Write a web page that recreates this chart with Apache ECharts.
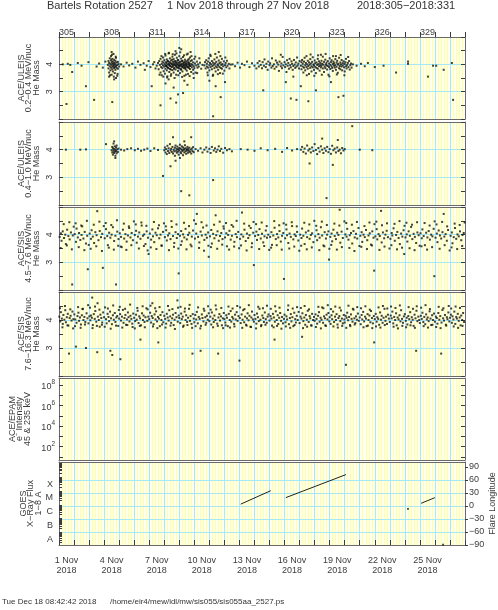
<!DOCTYPE html>
<html><head><meta charset="utf-8">
<script src="https://cdn.jsdelivr.net/npm/echarts@6/dist/echarts.min.js"></script>
<style>html,body{margin:0;padding:0;background:#fff}#c{width:498px;height:610px}</style>
</head><body><div id="c"></div>
<script>
// ---------------- DATA (hours since 2018-11-01 00:00, value) ----------------
const topTickLabels = ['305','308','311','314','317','320','323','326','329'];
const bottomTickLabels = ['1 Nov\n2018','4 Nov\n2018','7 Nov\n2018','10 Nov\n2018','13 Nov\n2018','16 Nov\n2018','19 Nov\n2018','22 Nov\n2018','25 Nov\n2018'];
const massTickLabels = ['3','4'];
const epamExponents = [2,4,6,8];
const goesClassLabels = ['A','B','C','M','X'];
const lonTickLabels = [-90,-60,-30,0,30,60,90];

// ACE/ULEIS 0.2-0.4 MeV/nuc He mass  [hour, mass, hour, mass, ...]
const uleisLow = [
6,4.00,12,2.55,14,4.02,18,3.98,21,3.72,30,4.05,36,3.95,43,3.20,47,4.08,56,2.70,60,3.92,64,4.03,70,3.88,74,4.10,
78,3.98,79,4.12,79,3.85,80,4.05,80,3.70,81,4.22,81,3.93,82,4.01,82,3.78,83,4.15,83,3.88,83,4.30,84,3.96,84,4.08,84,3.62,85,4.02,85,3.82,85,4.20,86,3.91,86,4.11,86,3.74,87,4.04,87,3.95,87,4.38,88,3.86,88,4.17,88,3.99,89,4.06,89,3.68,89,3.90,90,4.13,90,3.80,90,4.00,91,3.94,91,4.24,92,3.87,92,4.07,93,3.97,93,3.58,94,4.09,94,3.84,95,4.01,96,3.92,85,2.62,88,3.45,91,3.50,84,4.45,80,3.55,
81.5,3.60,84.5,4.35,87.5,3.55,90.5,4.28,93.5,3.65,
99,4.00,103,3.92,108,4.06,112,3.96,117,4.02,122,3.88,126,4.10,130,3.98,135,4.04,137,3.80,140,3.95,143,4.12,146,3.90,148,3.20,150,4.00,152,4.08,154,3.85,
156,3.95,158,4.05,159,3.82,160,4.12,161,3.98,162,3.70,162,4.20,163,3.90,164,4.02,164,3.60,165,4.10,165,3.86,166,4.25,166,3.96,167,3.75,167,4.06,168,3.92,168,4.15,169,3.66,169,4.00,170,3.84,170,4.32,171,3.94,171,4.08,172,3.78,172,4.18,173,3.99,173,3.56,174,4.11,174,3.88,175,4.03,175,4.40,176,3.72,176,3.97,177,4.22,177,3.83,178,4.05,178,3.93,179,3.64,179,4.14,180,3.90,180,4.01,181,4.28,181,3.79,182,3.96,182,4.09,183,3.70,183,4.19,184,3.87,184,4.04,185,3.98,185,4.35,186,3.81,186,4.12,187,3.94,187,3.62,188,4.07,188,4.24,189,3.89,189,4.00,190,3.76,190,4.16,191,3.97,191,4.05,192,3.85,192,4.30,193,3.93,193,3.68,194,4.10,194,3.99,195,4.21,195,3.80,196,4.02,196,3.91,197,4.13,197,3.74,198,3.96,198,4.27,199,3.86,199,4.06,200,3.99,200,3.58,201,4.17,201,3.90,202,4.03,202,3.82,203,4.11,203,3.95,204,4.36,204,3.77,205,4.00,205,3.92,206,4.08,206,3.65,207,4.19,207,3.87,208,3.97,208,4.05,209,3.83,209,4.25,210,3.94,210,4.12,211,3.72,211,4.01,212,3.89,212,4.15,213,3.98,214,3.80,214,4.07,215,3.93,216,4.20,216,3.86,217,4.03,218,3.70,219,3.96,220,4.10,221,3.88,222,4.00,223,3.92,225,4.06,227,3.84,229,3.98,
192,4.60,195,4.55,186,4.48,210,4.45,178,2.75,187,2.60,162,2.50,170,3.30,200,3.40,205,3.25,190,2.90,175,3.45,215,3.50,198,2.95,183,3.15,
170.5,3.95,171.5,4.04,172.5,3.91,173.5,4.13,174.5,3.86,175.5,4.00,176.5,4.09,177.5,3.94,178.5,3.81,179.5,4.02,180.5,4.17,181.5,3.92,182.5,4.00,183.5,3.84,184.5,4.11,185.5,3.96,186.5,4.05,187.5,3.89,188.5,3.99,189.5,4.14,190.5,3.87,191.5,3.94,192.5,4.08,193.5,4.00,194.5,3.83,195.5,3.97,196.5,4.12,197.5,3.90,198.5,4.03,199.5,3.95,200.5,4.09,201.5,3.86,202.5,3.98,203.5,4.04,204.5,3.91,205.5,4.15,206.5,3.89,207.5,4.01,208.5,3.94,
160.5,3.62,163.5,4.30,166.5,3.55,169.5,4.38,172.5,3.52,175.5,4.42,178.5,3.58,181.5,4.37,184.5,3.50,187.5,4.40,190.5,3.60,193.5,4.44,196.5,3.54,199.5,4.33,202.5,3.62,205.5,4.39,208.5,3.57,211.5,4.30,214.5,3.66,217.5,4.28,220.5,3.68,224,4.22,
232,3.96,233,4.08,234,3.85,235,4.15,236,3.92,236,4.02,237,3.70,238,4.10,238,3.88,239,4.22,240,3.97,240,3.78,241,4.05,242,3.90,242,4.30,243,4.00,244,3.82,244,4.12,245,3.94,246,4.06,246,3.62,247,3.99,248,4.18,248,3.86,249,4.03,250,3.93,250,3.74,251,4.09,252,3.89,252,4.25,253,4.00,254,3.80,254,3.96,255,4.14,256,3.91,256,4.04,257,3.68,258,4.07,258,3.87,259,3.98,260,4.20,260,3.84,261,4.01,262,3.93,263,4.11,264,3.77,265,3.97,266,4.05,267,3.89,268,4.13,269,3.95,271,4.02,272,3.85,274,3.99,
237.5,3.60,241.5,4.35,245.5,3.58,249.5,4.38,253.5,3.64,257.5,4.30,261.5,3.66,265.5,4.25,
246,2.10,250,3.20,258,2.80,240,3.40,255,4.45,265,3.35,
277,4.00,281,3.93,285,4.06,289,3.88,292,4.02,296,3.97,300,4.10,304,3.90,308,4.04,312,3.95,315,3.85,
317,4.05,319,3.92,320,4.12,322,3.98,324,3.86,325,4.08,327,3.95,328,4.18,330,3.90,331,4.02,333,3.80,334,4.10,336,3.97,337,4.04,339,3.88,340,4.22,341,3.94,343,4.00,344,3.84,346,4.14,347,3.91,348,4.06,350,3.99,351,3.76,352,4.10,354,3.93,355,4.03,356,3.86,357,4.27,358,3.96,360,4.08,361,3.90,362,4.00,363,3.72,364,4.15,365,3.95,366,4.05,367,3.84,368,4.20,369,3.97,370,3.89,371,4.11,372,4.02,373,3.80,374,3.94,375,4.16,376,3.99,377,3.87,378,4.07,379,3.92,380,4.25,381,3.96,382,4.03,383,3.85,384,4.12,
354,4.35,362,3.35,370,2.75,374,3.55,379,2.70,398,2.65,386,3.20,410,3.05,446,2.80,454,2.85,434,3.35,418,4.35,442,4.30,326,3.05,
386,3.95,387,4.08,387,3.82,388,4.16,389,3.92,389,4.02,390,3.70,391,4.10,391,3.88,392,4.24,393,3.97,393,3.78,394,4.05,395,3.90,395,4.30,396,4.00,397,3.84,397,4.13,398,3.94,399,4.07,399,3.65,400,3.99,401,4.19,401,3.87,402,4.03,403,3.93,403,3.74,404,4.09,405,3.89,405,4.26,406,4.00,407,3.80,407,3.96,408,4.14,409,3.91,409,4.04,410,3.68,411,4.07,411,3.87,412,3.98,413,4.20,413,3.84,414,4.01,415,3.93,415,4.11,416,3.77,417,3.97,417,4.05,418,3.89,419,4.13,419,3.95,420,4.02,421,3.85,421,4.28,422,3.99,423,3.72,423,4.09,424,3.92,425,4.17,425,3.86,426,4.00,427,3.96,427,4.06,428,3.81,429,4.12,429,3.94,430,3.62,431,4.03,431,3.90,432,4.22,433,3.98,433,3.83,434,4.08,435,3.93,435,4.15,436,3.87,437,4.01,437,3.76,438,4.10,439,3.95,439,4.04,440,3.88,441,4.19,441,3.97,442,3.80,443,4.06,443,3.91,444,4.13,445,3.99,445,3.69,446,4.02,447,3.86,447,4.24,448,3.94,449,4.07,449,3.82,450,4.00,451,3.92,451,4.16,452,3.78,453,4.04,453,3.96,454,4.11,455,3.89,456,4.01,456,3.74,457,4.08,458,3.93,458,4.20,459,3.85,460,3.98,461,4.05,462,3.90,463,4.12,464,3.81,465,3.97,466,4.03,467,3.88,
395.5,3.60,401.5,4.36,407.5,3.58,413.5,4.33,419.5,3.62,425.5,4.38,431.5,3.56,437.5,4.30,443.5,3.63,449.5,4.34,455.5,3.60,461.5,4.27,
469,4.00,475,3.95,482,4.02,488,3.93,493,4.05,504,3.90,518,3.95,538,3.70,557,4.10,557,4.02,589,3.55,597,3.95,602,3.95,614,3.80,627,4.05,629,2.70
];

// ACE/ULEIS 0.4-1.0 MeV/nuc He mass
const uleisHigh = [
11,4.00,34,4.00,43,4.01,75,4.20,
84,3.98,85,4.10,85,3.90,86,4.05,86,3.82,87,4.22,87,3.96,88,4.02,88,3.88,89,4.12,89,3.93,90,4.00,90,3.78,91,4.08,91,3.95,92,4.15,92,3.87,93,4.01,94,3.92,95,4.04,88,4.30,90,3.70,
99,4.00,104,3.97,109,4.02,115,4.05,121,3.98,126,4.03,131,3.96,136,4.00,141,4.04,146,3.95,152,4.05,158,3.99,166,3.05,
168,3.98,169,4.08,170,3.90,171,4.02,172,3.84,173,4.14,174,3.95,175,4.05,176,3.88,177,4.20,178,3.97,178,3.40,179,4.03,180,3.92,181,4.10,182,3.86,182,4.45,183,4.00,184,3.94,185,4.07,185,3.78,186,4.15,187,3.96,188,4.03,188,3.89,189,4.11,190,3.93,190,4.01,191,3.82,192,4.06,192,3.98,193,4.18,194,3.91,194,4.04,195,3.87,195,2.50,196,4.00,196,4.12,197,3.95,198,4.08,198,3.80,199,3.99,200,4.03,200,3.90,201,4.16,202,3.94,202,4.05,203,3.85,204,4.01,204,3.97,205,4.10,206,3.89,206,4.02,207,3.96,208,4.07,208,2.35,209,3.92,210,4.00,211,4.45,211,3.86,212,4.04,213,3.95,214,4.09,215,3.91,186,3.60,200,4.30,193,3.70,
218,4.02,222,3.96,226,4.05,229,3.90,232,4.00,235,4.08,237,3.93,240,4.03,242,3.88,244,4.10,246,2.90,247,3.97,249,4.05,251,3.92,253,4.00,255,4.12,257,3.95,259,4.03,262,3.89,265,4.06,268,3.98,272,4.02,276,3.94,
290,4.02,301,4.00,312,3.96,322,4.05,333,3.98,345,4.03,356,3.92,364,4.06,372,3.97,380,4.02,
386,4.00,388,4.10,390,3.92,392,4.04,394,3.86,396,4.15,398,3.97,400,4.03,402,3.90,404,4.08,406,3.95,408,4.20,410,3.99,412,3.84,414,4.06,416,3.93,418,4.12,420,4.00,422,3.88,424,4.05,426,3.96,428,4.10,430,3.91,432,4.02,434,3.85,436,4.14,438,3.98,440,4.04,442,3.90,444,4.08,446,3.95,448,4.00,450,3.87,452,4.06,454,3.97,456,4.02,
400,3.50,420,4.40,437,3.45,445,4.35,427,2.25,468,4.85,480,4.00,500,3.98
];

// ACE/SIS 4.5-7.6 MeV/nuc He mass
const sisLow = [
1,3.92,3,4.05,4,3.78,6,4.12,8,3.88,10,4.00,11,3.66,13,4.18,15,3.95,17,3.83,19,4.08,21,2.20,22,3.97,
25,4.02,27,3.74,28,4.22,30,3.90,32,4.06,34,3.81,36,3.99,37,4.30,39,3.86,41,4.10,43,3.68,45,3.96,46,2.75,
49,4.04,51,3.85,52,4.16,54,3.93,56,3.70,58,4.09,60,3.98,61,4.85,63,3.80,65,4.13,67,3.91,69,4.03,70,2.80,
73,3.87,75,4.20,77,3.95,78,3.62,80,4.07,82,3.89,84,4.00,86,4.27,88,3.77,90,3.96,91,2.20,93,4.11,95,3.84,
97,4.05,99,3.92,100,3.55,102,4.18,104,3.86,106,4.02,108,3.75,110,3.97,112,4.24,114,3.90,116,4.06,118,3.80,
121,3.99,123,4.14,124,3.71,126,3.93,128,4.08,130,3.85,132,4.33,134,3.96,136,4.01,138,3.66,140,4.12,142,3.89,143,3.30,
145,4.04,147,3.82,149,4.19,150,3.94,152,3.73,154,4.07,156,3.98,158,4.23,160,3.87,162,4.00,164,3.60,166,4.10,
169,3.91,171,4.16,172,3.79,174,3.97,176,4.05,178,3.84,180,4.28,182,3.95,184,3.70,186,4.09,188,3.88,190,4.02,191,2.60,
193,3.96,195,4.13,196,3.76,198,4.01,200,3.90,202,4.21,204,3.83,206,3.99,208,4.07,210,3.64,212,3.93,214,4.15,
217,3.86,219,4.04,220,4.75,222,3.92,224,3.72,226,4.11,228,3.97,230,4.26,232,3.81,234,4.00,236,3.89,238,4.08,239,3.20,
241,3.94,243,4.17,244,3.68,246,4.03,248,3.87,250,4.70,251,3.98,253,4.12,255,3.78,257,3.95,259,4.06,261,3.84,263,4.22,
265,3.90,267,4.05,268,3.58,270,3.99,272,4.14,274,3.82,276,3.96,278,4.29,280,3.74,282,4.02,284,3.91,286,4.10,
289,3.85,291,4.01,292,4.80,294,3.93,296,4.18,298,3.77,300,4.04,302,3.88,304,3.98,306,4.24,308,3.69,310,4.07,311,2.90,
313,3.95,315,4.11,316,3.81,318,3.99,320,4.20,322,3.86,324,4.03,326,3.72,328,3.94,330,4.15,332,3.89,334,4.00,
337,3.92,339,4.09,340,3.63,342,3.97,344,4.25,346,3.84,348,4.02,350,3.90,352,4.13,354,3.75,356,3.96,358,4.06,359,2.40,
361,3.87,363,4.19,364,3.98,366,3.70,368,4.04,370,3.92,372,4.31,374,3.83,376,4.01,378,3.95,380,4.10,382,3.79,
385,4.00,387,3.88,388,4.22,390,3.96,392,3.66,394,4.08,396,3.91,398,4.14,400,3.85,402,3.99,404,4.05,406,3.73,
409,3.94,411,4.16,412,3.80,414,4.02,416,3.89,418,4.27,420,3.97,422,3.61,424,4.09,426,3.86,428,4.00,430,4.12,431,3.10,
433,3.92,435,4.04,436,3.76,438,4.18,440,3.95,442,3.84,444,4.07,446,3.99,448,4.90,449,3.71,451,4.11,453,3.88,
457,4.01,459,3.93,460,4.21,462,3.82,464,3.98,466,4.06,468,3.68,470,4.13,472,3.90,474,4.03,476,3.86,478,4.24,
481,3.96,483,4.09,484,3.74,486,4.00,488,3.91,490,4.17,492,3.80,494,3.97,496,4.05,498,3.64,500,4.12,502,3.89,503,2.70,
505,3.94,507,4.20,508,3.83,510,4.02,512,3.95,514,4.86,515,3.72,517,4.08,519,3.87,521,4.00,523,4.14,525,3.91,
529,3.85,531,4.06,532,3.97,534,4.23,536,3.78,538,3.99,540,4.10,542,3.88,544,3.66,546,4.04,548,3.93,550,4.16,551,3.30,
553,3.90,555,4.01,556,3.75,558,4.12,560,3.96,562,4.28,564,3.84,566,4.03,568,3.92,570,3.70,572,4.08,574,3.98,
577,4.05,579,3.87,580,4.19,582,3.95,584,3.62,586,4.07,588,3.90,590,4.13,592,3.82,594,4.00,596,3.94,598,4.21,599,2.50,
601,3.89,603,4.04,604,3.73,606,4.15,608,3.97,610,3.86,612,4.09,614,4.75,615,3.93,617,4.02,619,3.78,621,4.17,
625,3.96,627,4.08,628,3.69,630,3.91,632,4.24,634,3.85,636,4.01,638,3.94,640,4.12,642,3.80,644,3.99,646,4.06,
2.5,3.52,7.5,4.38,12.5,3.61,16.5,4.45,20.5,3.47,23.5,4.29,26.5,4.41,31.5,3.55,35.5,4.33,40.5,3.44,44.5,4.50,47.5,3.63,
50.5,3.49,55.5,4.36,59.5,3.58,64.5,4.47,68.5,3.41,71.5,4.31,74.5,4.42,79.5,3.53,83.5,4.35,87.5,3.46,92.5,4.52,94.5,3.60,
98.5,3.57,103.5,4.40,107.5,3.45,111.5,4.30,115.5,3.62,119.5,4.48,122.5,4.37,127.5,3.50,131.5,4.44,135.5,3.59,139.5,4.32,141.5,3.43,
146.5,3.54,151.5,4.46,155.5,3.48,159.5,4.34,163.5,3.61,167.5,4.41,170.5,4.30,175.5,3.44,179.5,4.49,183.5,3.56,187.5,4.37,190.5,3.50,
194.5,3.63,199.5,4.43,203.5,3.47,207.5,4.31,211.5,3.58,215.5,4.52,218.5,4.39,223.5,3.52,227.5,4.45,231.5,3.42,235.5,4.33,238.5,3.60,
242.5,3.55,247.5,4.36,252.5,3.49,256.5,4.47,260.5,3.64,262.5,4.30,266.5,4.42,271.5,3.46,275.5,4.35,279.5,3.57,283.5,4.50,287.5,3.51,
290.5,3.61,295.5,4.40,299.5,3.43,303.5,4.32,307.5,3.55,310.5,4.46,314.5,4.38,319.5,3.48,323.5,4.44,327.5,3.59,331.5,4.31,335.5,3.45,
338.5,3.53,343.5,4.49,347.5,3.62,351.5,4.34,355.5,3.46,358.5,4.41,362.5,4.36,367.5,3.50,371.5,4.45,375.5,3.57,379.5,4.30,383.5,3.42,
386.5,3.60,391.5,4.43,395.5,3.47,399.5,4.37,403.5,3.54,407.5,4.50,410.5,4.32,415.5,3.44,419.5,4.47,423.5,3.58,427.5,4.35,431.5,3.49,
434.5,3.63,439.5,4.40,443.5,3.46,447.5,4.33,451.5,3.55,455.5,4.48,458.5,4.42,463.5,3.52,467.5,4.36,471.5,3.41,475.5,4.46,479.5,3.59,
482.5,3.56,487.5,4.31,491.5,3.48,495.5,4.44,499.5,3.61,503.5,4.38,506.5,4.47,511.5,3.45,515.5,4.34,519.5,3.57,523.5,4.41,527.5,3.50,
530.5,3.62,535.5,4.39,539.5,3.47,543.5,4.49,547.5,3.53,551.5,4.32,554.5,4.43,559.5,3.51,563.5,4.36,567.5,3.44,571.5,4.45,575.5,3.60,
578.5,3.58,583.5,4.42,587.5,3.46,591.5,4.33,595.5,3.55,599.5,4.48,602.5,4.37,607.5,3.49,611.5,4.46,615.5,3.62,619.5,4.30,623.5,3.43,
626.5,3.54,631.5,4.40,635.5,3.48,639.5,4.35,643.5,3.59,647.5,4.44
];

// ACE/SIS 7.6-16.3 MeV/nuc He mass
const sisHigh = [
0.5,4.12,2,3.95,3,4.28,4.5,4.05,6,3.86,7,4.18,8.5,4.01,10,4.35,11,3.92,12.5,4.10,14,4.22,15,3.80,16,2.80,17,4.07,18.5,4.15,20,3.98,21.5,4.30,23,4.03,
24.5,4.20,26,4.02,27,3.05,28,3.90,29.5,4.14,31,4.26,32,3.97,33.5,4.09,35,3.84,36.5,4.17,38,4.40,39,4.00,40.5,4.11,42,3.93,43,3.00,44,4.24,45.5,4.06,47,3.88,
48.5,4.13,50,3.99,51,4.16,52.5,4.08,53,4.80,54,3.82,55.5,4.21,57,4.04,58,4.32,59.5,3.94,61,2.85,61.5,4.60,62,4.12,63.5,4.00,65,3.76,66,4.19,67.5,4.07,69,3.91,70.5,4.27,
72,4.10,73.5,4.45,75,4.03,76,3.88,77.5,4.22,79,4.11,80,3.96,81.5,4.30,82,2.90,83,4.06,84.5,3.85,85,2.75,86,4.17,87.5,4.01,89,4.25,90,3.93,91.5,4.09,93,4.14,94.5,3.79,
96,4.05,97.5,4.21,98,2.60,99,3.98,100.5,4.12,102,4.36,103,3.90,104.5,4.07,106,4.18,107,3.83,108.5,4.02,110,4.27,111,4.10,112.5,3.95,114,4.15,115.5,4.04,117,3.87,118.5,4.23,
120,4.08,121.5,3.96,123,4.19,124,4.01,125.5,4.33,127,3.89,128,4.13,129.5,4.06,130,3.30,131,3.81,132.5,4.24,134,4.00,135,4.16,136.5,3.93,138,4.10,139.5,4.42,141,3.97,142.5,4.12,
144,4.03,145.5,4.26,147,3.91,148,4.14,149,4.60,149.5,4.07,151,3.85,152.5,4.20,154,4.02,155,4.31,156.5,3.95,158,4.11,158.5,3.20,159.5,4.05,161,3.78,162,4.18,163.5,4.00,165,4.28,166.5,3.92,
168,4.15,169.5,4.04,171,3.87,172,4.22,173.5,4.09,175,3.98,176,4.35,177.5,4.13,179,3.90,180.5,4.06,182,4.19,183,3.82,184.5,4.01,186,4.25,187.5,4.10,189,4.70,189.5,3.94,191,4.16,
192,4.07,193.5,3.89,195,4.23,196,4.03,197.5,4.12,199,3.80,200.5,4.30,202,4.00,203,4.17,204.5,3.93,206,4.08,207.5,4.40,209,3.97,210,4.14,211.5,3.86,213,2.80,213.5,4.21,215,4.05,
216,3.92,217.5,4.18,219,4.02,220,4.29,221.5,3.88,223,4.11,224.5,4.04,226,2.90,226.5,3.79,228,4.20,229,4.07,230.5,3.95,232,4.33,233.5,4.10,235,3.90,236,4.15,237.5,4.01,239,4.24,
240,3.96,241.5,4.12,243,3.84,244,4.27,245.5,4.05,247,3.93,248,4.16,249.5,4.00,251,4.38,252.5,3.87,254,2.80,254.5,4.09,256,4.21,257,3.98,258.5,4.13,260,3.81,261.5,4.06,263,4.25,
264,4.03,265.5,3.91,267,4.17,268,4.08,269.5,3.78,271,4.22,272.5,4.00,274,4.32,275,3.94,276.5,4.11,278,4.05,279.5,3.86,281,4.19,282,4.02,283.5,4.28,285,3.97,286.5,4.14,
288,2.55,288.5,4.07,290,3.89,291.5,4.20,293,4.01,294,4.35,295.5,3.92,297,4.12,298.5,3.83,300,4.06,301,4.24,302.5,3.99,304,4.15,305.5,3.76,307,4.09,308,4.30,309.5,4.02,311,3.94,
312,4.18,313.5,4.04,315,3.87,316,4.23,317.5,4.10,319,3.96,320,4.40,321.5,4.01,323,3.82,324.5,4.16,326,4.07,327,3.93,328.5,4.27,330,4.03,331.5,3.90,333,4.12,334.5,4.20,
336,3.98,337.5,4.14,339,4.05,340,3.80,341.5,4.22,343,4.09,344,3.30,344.5,3.94,346,4.31,347.5,4.00,349,4.17,350,3.86,351.5,4.08,353,4.25,354.5,3.97,356,4.11,357.5,3.88,359,4.04,
360,4.19,361.5,3.92,363,4.13,364,4.02,365.5,4.36,367,3.85,368.5,4.07,370,4.21,371,3.95,372.5,4.10,374,3.78,375.5,4.26,377,4.03,378,3.91,379.5,4.15,381,4.00,382.5,4.29,
384,3.89,385.5,4.12,387,4.05,388,3.40,388.5,4.24,390,3.96,391.5,4.09,393,3.83,394,4.18,395.5,4.01,397,4.33,398.5,3.93,400,4.14,401,4.06,402.5,3.81,404,4.22,405.5,4.00,407,4.11,
408,3.97,409.5,4.20,411,4.04,412,3.87,413.5,4.15,415,4.28,416,3.94,417.5,4.08,419,4.01,420,4.45,421.5,3.90,423,4.13,424.5,4.06,426,3.79,427,4.19,428.5,4.02,430,4.25,431.5,3.95,
432,4.10,433.5,3.86,435,4.17,436,4.03,437.5,4.30,439,3.93,440.5,4.12,442,4.00,443,4.21,444.5,3.84,446,4.07,447.5,4.14,449,3.96,450,4.34,451.5,4.05,453,3.88,454.5,4.18,455.5,4.02,
456,3.91,457.5,4.15,458,2.40,459,4.08,460,4.26,461.5,3.99,463,4.11,464.5,3.82,466,4.20,467,4.04,468.5,3.94,470,4.37,471.5,4.06,473,3.89,474,4.13,475.5,4.01,477,4.23,478.5,3.97,
480,4.09,481.5,3.85,483,4.18,484,4.02,485.5,4.29,487,3.95,488.5,4.12,490,4.05,491,3.78,492.5,4.21,494,4.00,495.5,4.16,497,3.92,498,4.32,499.5,4.07,501,3.88,502.5,4.14,503,3.20,
504,4.03,505.5,4.22,507,3.94,508,4.10,509.5,4.04,511,3.83,512.5,4.27,514,4.01,515,4.15,516.5,3.90,518,4.08,519.5,4.40,521,3.97,522,4.12,523.5,3.86,525,4.19,526.5,4.05,
528,3.93,529.5,4.16,531,4.06,532,4.30,533.5,3.88,535,4.11,536.5,4.00,538,4.24,539,3.81,540.5,4.09,542,4.02,543.5,4.17,545,3.95,546,4.35,547.5,4.04,549,3.90,550.5,4.13,
552,4.21,553.5,3.97,555,4.08,556,3.84,557.5,4.14,559,4.03,560.5,4.28,562,3.92,563,4.10,564.5,4.01,566,3.79,567.5,4.19,569,4.06,570,2.90,570.5,4.33,572,3.96,573.5,4.12,575,4.00,
576,3.89,577.5,4.15,579,4.04,580,4.26,581.5,3.93,583,4.11,584.5,3.85,586,4.20,587,4.02,588.5,4.09,590,3.96,591.5,4.31,593,4.05,594,3.82,595.5,4.17,597,4.00,598.5,4.23,
600,3.94,601.5,4.12,603,4.07,604,3.87,605.5,4.25,607,4.01,608.5,4.14,610,2.80,610.5,3.91,612,4.36,613,4.06,614.5,3.98,616,4.18,617.5,3.83,619,4.10,620,4.03,621.5,4.27,623,3.95,
624,4.08,625.5,4.19,627,3.90,628,4.13,629.5,4.02,631,4.30,632.5,3.86,634,4.11,635,4.05,636.5,4.22,638,3.97,639.5,4.09,641,3.81,642,4.16,643.5,4.00,645,4.25,646.5,3.93,
1.5,4.42,5.5,3.74,9.5,4.50,13.5,3.81,18,4.38,22.5,3.70,25.5,3.78,30.5,4.46,34.5,3.72,37.5,4.39,41.5,3.84,46.5,4.53,
49.5,4.44,53.5,3.71,57.5,4.48,60.5,3.79,64.5,4.37,68.5,3.83,73,3.76,78,4.41,82.5,3.69,86.5,4.52,91,3.80,95.5,4.36,
97,4.47,101,3.73,105.5,4.40,109,3.82,113.5,4.55,117.5,3.75,121,3.70,125,4.43,129,3.79,133.5,4.49,137,3.74,141.5,4.38,
146,4.51,150,3.77,153.5,4.42,157,3.71,160.5,4.46,164.5,3.84,170,3.73,174,4.50,178,3.80,181,4.39,185,3.68,190,4.44,
194,4.47,198,3.76,201,4.41,205,3.82,208.5,4.54,212.5,3.72,218,3.78,222,4.45,225.5,3.70,231,4.40,234,3.83,238,4.49,
242,4.37,246,3.74,250,4.52,253.5,3.79,259,4.43,262,3.71,266,3.81,270.5,4.48,273,3.73,277,4.41,280,3.77,284.5,4.50,
289,4.45,292.5,3.72,296,4.39,299.5,3.80,303,4.53,306.5,3.75,314.5,3.70,318,4.47,322.5,3.78,325.5,4.42,329.5,3.83,332,4.51,
338,4.40,342.5,3.74,345,4.49,348,3.79,352,4.44,355,3.69,362,3.77,366,4.52,369,3.72,373,4.41,376,3.82,380,4.46,
386,4.43,389.5,3.71,392,4.50,396,3.76,399,4.38,403,3.80,410,3.75,414,4.47,418,3.70,422,4.42,425,3.81,429,4.53,
434,4.39,438,3.77,441,4.48,445,3.73,448,4.44,452,3.79,458.5,3.72,462,4.51,465,3.78,469,4.40,472,3.84,476,4.46,
482,4.42,486,3.74,489,4.49,493,3.80,496,4.37,500,3.71,506,3.77,510,4.45,513,3.73,517,4.50,520,3.82,524,4.41,
530,4.48,534,3.76,537,4.43,541,3.70,544,4.52,548,3.79,554,3.74,558,4.46,561,3.81,565,4.40,568,3.72,571,4.49,
578,4.44,582,3.78,585,4.53,589,3.73,592,4.39,596,3.83,602,3.75,606,4.47,609,3.71,613.5,4.42,618,3.80,622,4.50,
626,4.41,630,3.77,633,4.48,637,3.72,640,4.43,644,3.79
];

// ACE/EPAM electron intensity: no data in this rotation
const epamIntensity = [];

// GOES flare longitude tracks [hour, degrees]; null breaks the line
const flareLonTrack = [[290,4],[338,35],null,[362,19],[458,72],null,[578,6],[600,19]];
const flareLonDots = [[557,-7],[613,-89]];

// ---------------- STYLE ----------------
const FONT = '"Liberation Sans", Arial, sans-serif';
const TXT = '#3c3c3c';
const BORDER = '#6a6a6a';
const CYAN = '#a6e8f6';
const YEL = '#ffffa6';
const HOURS = 648;

function pairs(flat){ const out=[]; for(let i=0;i<flat.length;i+=2) out.push([flat[i],flat[i+1]]); return out; }

const panels = [
  {top:37, height:82, name:'ACE/ULEIS\n0.2\u22120.4 MeV/nuc\nHe Mass', kind:'mass', data:uleisLow},
  {top:122,height:83, name:'ACE/ULEIS\n0.4\u22121.0 MeV/nuc\nHe Mass', kind:'mass', data:uleisHigh},
  {top:207,height:83, name:'ACE/SIS\n4.5\u22127.6 MeV/nuc\nHe Mass', kind:'mass', data:sisLow},
  {top:292,height:84, name:'ACE/SIS\n7.6\u221216.3 MeV/nuc\nHe Mass', kind:'mass', data:sisHigh},
  {top:378,height:82, name:'ACE/EPAM\ne\u207B Intensity\n45 & 235 keV', kind:'epam'},
  {top:462,height:83, name:'GOES\nX\u2212Ray Flux\n1\u22128 A', kind:'goes'}
];

const grids=[], xAxes=[], yAxes=[], series=[];
const dayLabelHours = topTickLabels.map((_,i)=>12+72*i);
const lineOf = (w)=>({show:true,onZero:false,lineStyle:{color:BORDER,width:w}});

panels.forEach((p,i)=>{
  grids.push({left:59, right:33, top:p.top, height:p.height, containLabel:false, outerBoundsMode:'none'});
  // yellow background stripes
  xAxes.push({gridIndex:i,type:'value',min:0,max:HOURS,interval:4.8,z:0,
    axisLine:{show:false,onZero:false},axisTick:{show:false},axisLabel:{show:false},
    splitLine:{show:true,showMinLine:false,showMaxLine:false,lineStyle:{color:YEL,width:1.4}}});
  // bottom axis: day lines
  xAxes.push({gridIndex:i,type:'value',min:0,max:HOURS,interval:24,position:'bottom',z:3,
    axisLine:lineOf(1),
    axisTick:{show:i===5,inside:true,length:5,lineStyle:{color:TXT,width:1}},
    axisLabel:{show:i===5,customValues:dayLabelHours,margin:11,color:TXT,fontFamily:FONT,fontSize:9,lineHeight:10,
      formatter:v=>bottomTickLabels[Math.round((v-12)/72)]||''},
    splitLine:{show:true,showMinLine:false,showMaxLine:false,lineStyle:{color:CYAN,width:1}}});
  // top axis
  xAxes.push({gridIndex:i,type:'value',min:0,max:HOURS,interval:24,position:'top',z:3,
    axisLine:lineOf(1),
    axisTick:{show:i===0,inside:false,length:5,lineStyle:{color:TXT,width:1}},
    axisLabel:{show:i===0,customValues:dayLabelHours,margin:0,color:TXT,fontFamily:FONT,fontSize:9,
      formatter:v=>topTickLabels[Math.round((v-12)/72)]||''},
    splitLine:{show:false}});

  const nameStyle={color:TXT,fontFamily:FONT,fontSize:9,lineHeight:7.5};
  if(p.kind==='mass'){
    yAxes.push({gridIndex:i,type:'value',min:2,max:5,interval:0.5,position:'left',z:3,
      name:p.name,nameLocation:'middle',nameRotate:90,nameGap:19,nameMoveOverlap:false,nameTextStyle:nameStyle,
      axisLine:lineOf(1),
      axisTick:{show:true,inside:true,length:4,lineStyle:{color:TXT}},
      axisLabel:{rotate:90,margin:5,color:TXT,fontFamily:FONT,fontSize:9,
        formatter:v=>massTickLabels.indexOf(String(v))>=0?String(v):''},
      splitLine:{show:false}});
    yAxes.push({gridIndex:i,type:'value',min:2,max:5,interval:0.5,position:'right',z:3,
      axisLine:lineOf(1),
      axisTick:{show:true,inside:true,length:4,lineStyle:{color:TXT}},
      axisLabel:{show:false},splitLine:{show:false}});
    yAxes.push({gridIndex:i,type:'value',min:2,max:5,interval:1,position:'left',z:1,
      axisLine:{show:false,onZero:false},axisTick:{show:false},axisLabel:{show:false},
      splitLine:{show:true,showMinLine:false,showMaxLine:false,lineStyle:{color:CYAN,width:1}}});
    series.push({type:'scatter',xAxisIndex:3*i+1,yAxisIndex:3*i,data:pairs(p.data),
      symbol:'rect',symbolSize:2,itemStyle:{color:'#111'},z:5,silent:true});
  } else if(p.kind==='epam'){
    const decades=[1,2,3,4,5,6,7,8];
    yAxes.push({gridIndex:i,type:'value',min:0.7,max:8.7,position:'left',z:3,
      name:p.name,nameLocation:'middle',nameRotate:90,nameGap:28,nameMoveOverlap:false,nameTextStyle:nameStyle,
      axisLine:lineOf(1),
      axisTick:{show:true,inside:true,length:4,customValues:decades,lineStyle:{color:TXT}},
      axisLabel:{margin:4,customValues:epamExponents,color:TXT,fontFamily:FONT,
        formatter:v=>'{b|10}{s|'+Math.round(v)+'}',
        rich:{b:{fontSize:9,fontFamily:FONT,color:TXT,lineHeight:12,verticalAlign:'bottom'},
              s:{fontSize:6.5,fontFamily:FONT,color:TXT,lineHeight:12,verticalAlign:'top'}}},
      splitLine:{show:false}});
    yAxes.push({gridIndex:i,type:'value',min:0.7,max:8.7,position:'right',z:3,
      axisLine:lineOf(1),
      axisTick:{show:true,inside:true,length:4,customValues:decades,lineStyle:{color:TXT}},
      axisLabel:{show:false},splitLine:{show:false}});
    yAxes.push({gridIndex:i,type:'value',min:0.7,max:8.7,show:false,axisLine:{onZero:false}});
    series.push({type:'scatter',xAxisIndex:3*i+1,yAxisIndex:3*i,data:epamIntensity,symbolSize:2});
  } else {
    const logTicks=[];
    for(let d=-8; d<=-2; d++) for(let k=1;k<=9;k++){ const t=d+Math.log10(k); if(t>-7.9&&t<-1.9) logTicks.push(t); }
    const classPos=[-7.5,-6.5,-5.5,-4.5,-3.5];
    yAxes.push({gridIndex:i,type:'value',min:-7.9,max:-1.9,position:'left',z:3,
      name:p.name,nameLocation:'middle',nameRotate:90,nameGap:17,nameMoveOverlap:false,nameTextStyle:nameStyle,
      axisLine:lineOf(1),
      axisTick:{show:true,inside:true,length:3,customValues:logTicks,lineStyle:{color:TXT}},
      axisLabel:{margin:6,customValues:classPos,color:TXT,fontFamily:FONT,fontSize:9,
        formatter:v=>goesClassLabels[classPos.indexOf(v)]||''},
      splitLine:{show:false}});
    yAxes.push({gridIndex:i,type:'value',min:-90,max:101,interval:30,position:'right',z:3,
      name:'Flare Longitude',nameLocation:'middle',nameRotate:90,nameGap:23,nameMoveOverlap:false,
      nameTextStyle:{color:TXT,fontFamily:FONT,fontSize:9},
      axisLine:lineOf(1),
      axisTick:{show:true,inside:false,length:3,customValues:lonTickLabels,lineStyle:{color:TXT}},
      axisLabel:{margin:4,customValues:lonTickLabels,color:TXT,fontFamily:FONT,fontSize:9,
        formatter:v=>v<0?'\u2212'+Math.abs(v):String(v)},
      splitLine:{show:true,showMinLine:false,showMaxLine:false,lineStyle:{color:CYAN,width:1}}});
    yAxes.push({gridIndex:i,type:'value',min:-90,max:101,show:false,axisLine:{onZero:false}});
    series.push({type:'line',xAxisIndex:3*i+1,yAxisIndex:3*i+1,data:flareLonTrack,
      connectNulls:false,showSymbol:false,lineStyle:{color:'#222',width:1},z:5,silent:true});
    series.push({type:'scatter',xAxisIndex:3*i+1,yAxisIndex:3*i+1,data:flareLonDots,
      symbol:'rect',symbolSize:1.8,itemStyle:{color:'#111'},z:5,silent:true});
  }
});

const chart = echarts.init(document.getElementById('c'), null, {renderer:'canvas'});
chart.setOption({
  animation:false,
  backgroundColor:'#fff',
  grid:grids, xAxis:xAxes, yAxis:yAxes, series:series,
  graphic:[
    {type:'text',left:47,top:0,style:{text:'Bartels Rotation 2527',font:'11px '+FONT,fill:'#333'}},
    {type:'text',left:167,top:0,style:{text:'1 Nov 2018 through 27 Nov 2018',font:'11px '+FONT,fill:'#333'}},
    {type:'text',left:357,top:0,style:{text:'2018:305\u22122018:331',font:'11px '+FONT,fill:'#333'}},
    {type:'text',left:2,top:598,style:{text:'Tue Dec 18 08:42:42 2018',font:'8px '+FONT,fill:'#333'}},
    {type:'text',left:110,top:598,style:{text:'/home/eir4/mew/idl/mw/sis055/sis055aa_2527.ps',font:'8px '+FONT,fill:'#333'}}
  ]
});
</script></body></html>
